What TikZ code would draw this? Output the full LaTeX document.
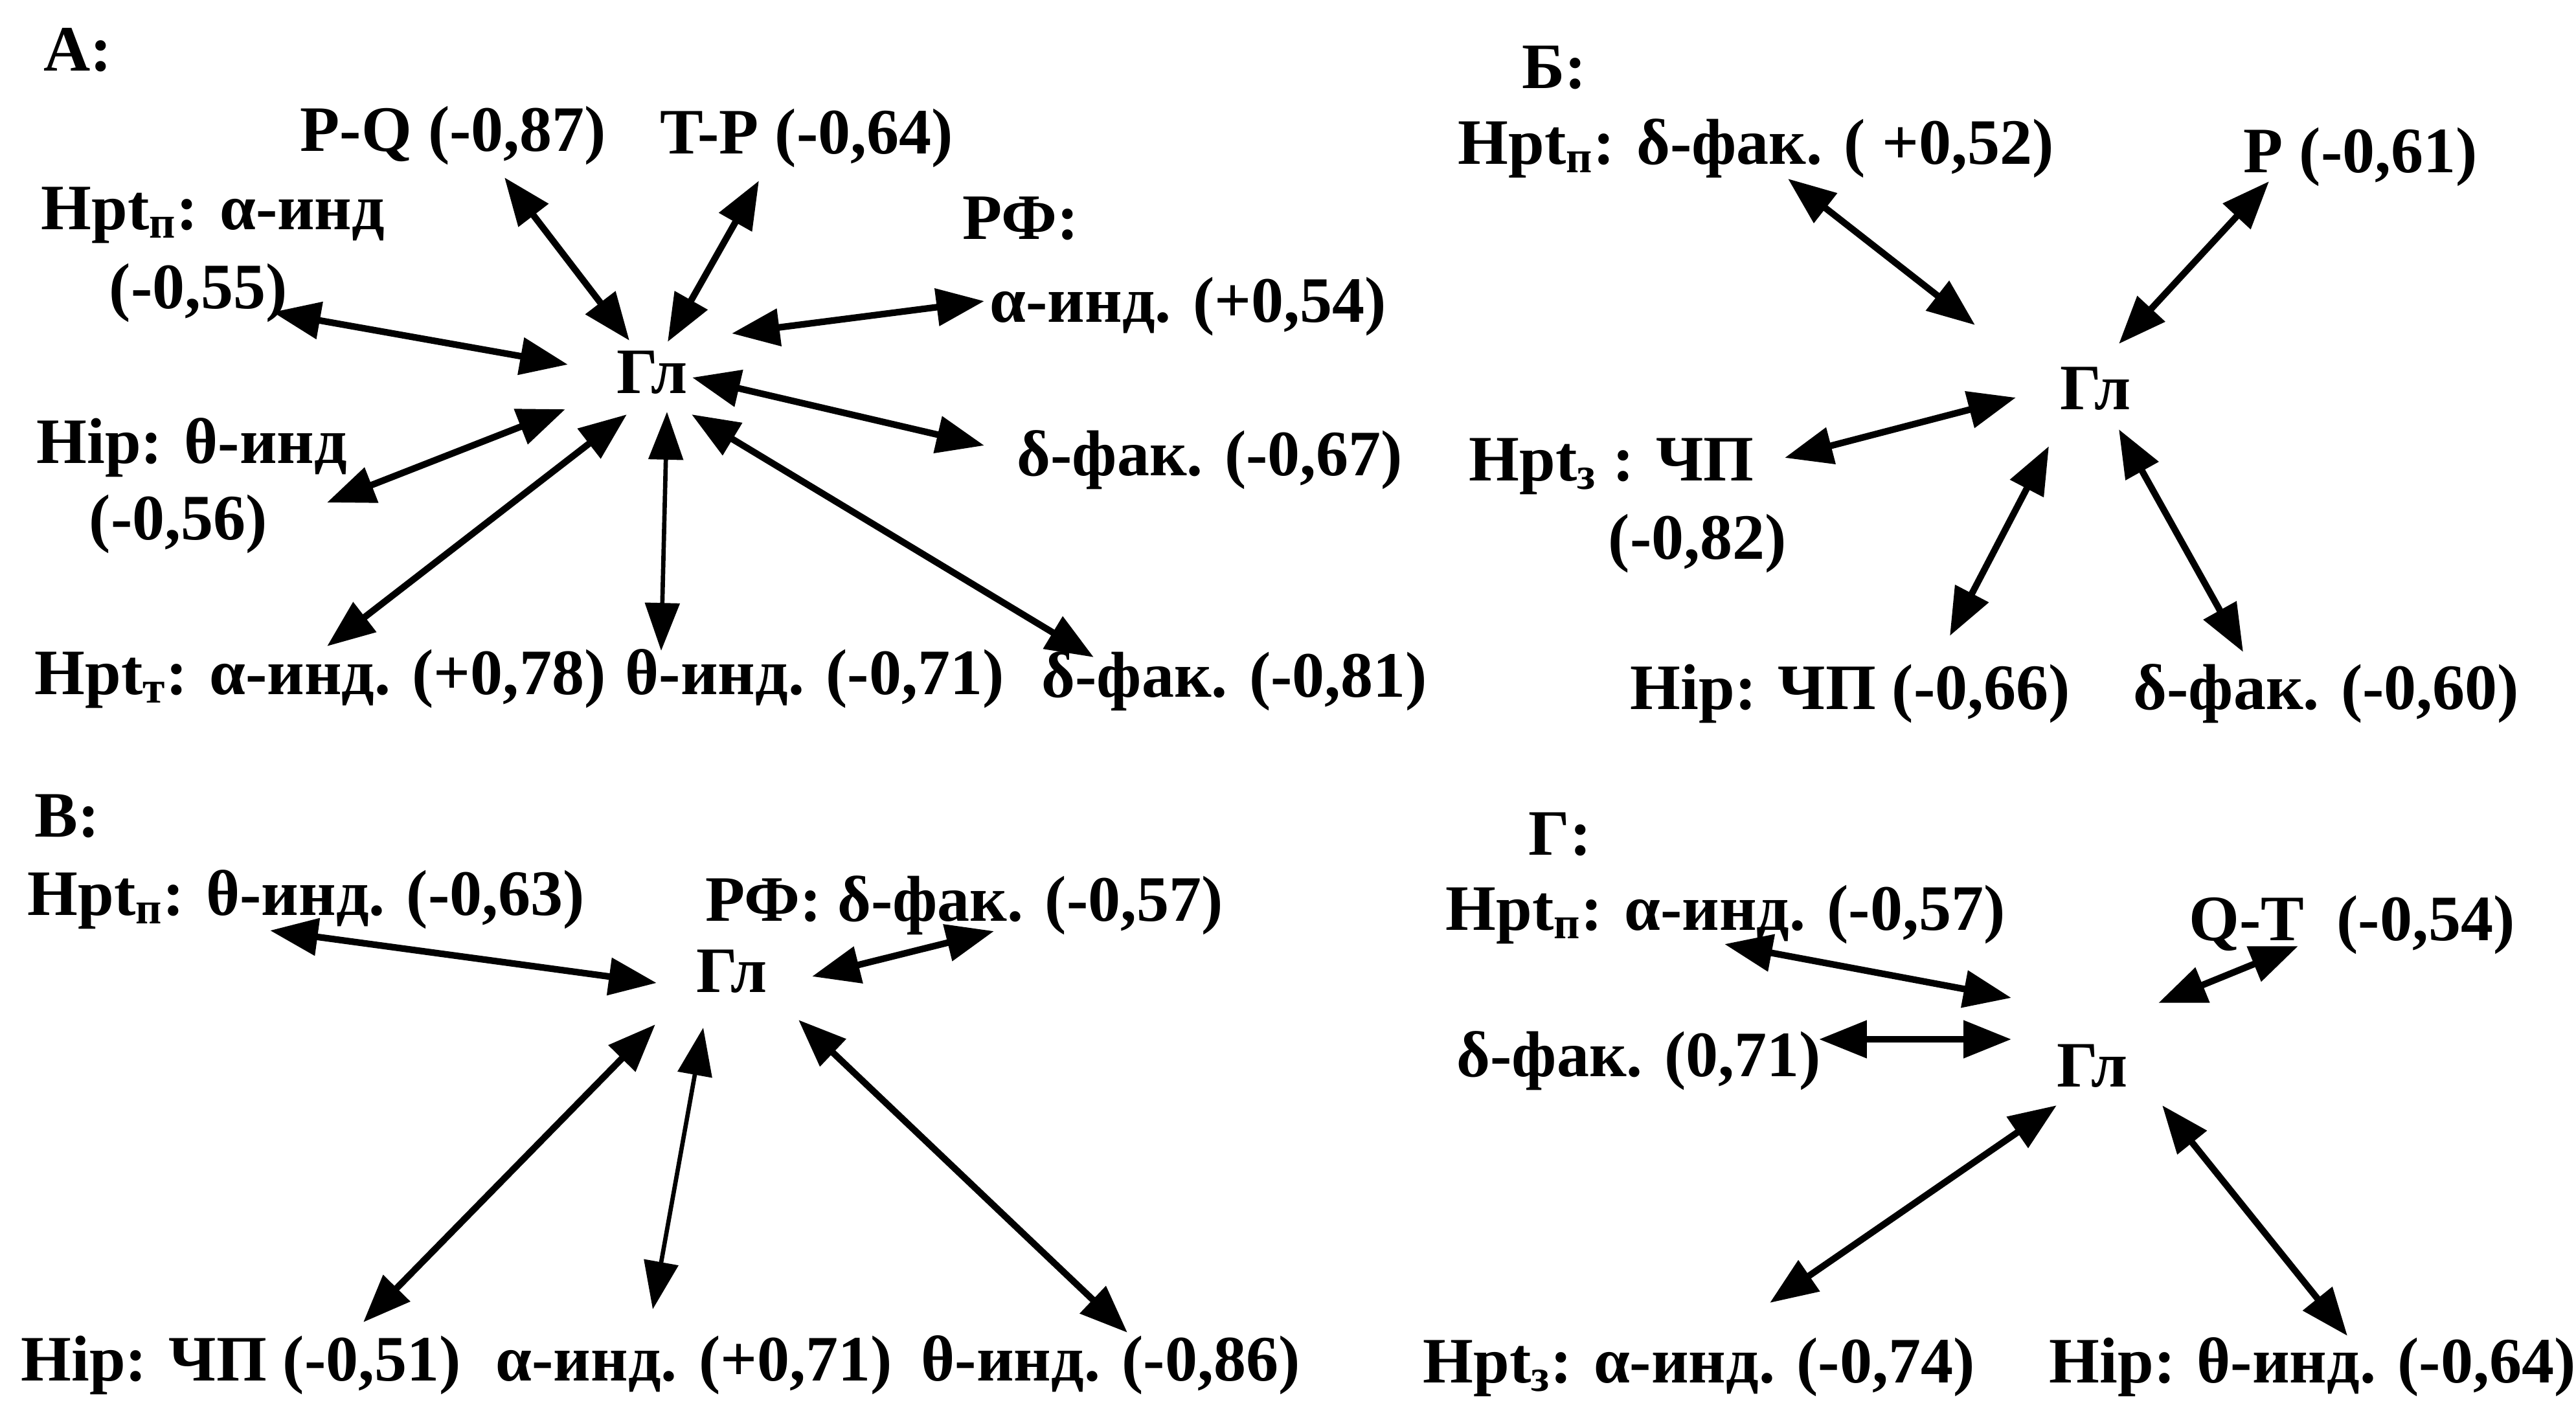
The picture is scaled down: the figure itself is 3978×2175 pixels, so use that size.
\documentclass[tikz,border=0pt]{standalone}
\usepackage{fontspec}
\setmainfont{Liberation Serif}
\usetikzlibrary{arrows.meta}
\tikzset{
  lbl/.style={inner sep=0pt, anchor=base west, font=\bfseries\fontsize{28.45}{34}\selectfont},
  arr/.style={line width=2.9pt, {Triangle[length=21pt,width=16pt]}-{Triangle[length=21pt,width=16pt]}},
  arrthin/.style={line width=1.9pt, {Triangle[length=21pt,width=15pt]}-{Triangle[length=21pt,width=15pt]}}
}
\begin{document}
\begin{tikzpicture}[x=0.01cm,y=-0.01cm]
\useasboundingbox (0,0) rectangle (3978,2175);
% ---------------- Panel A ----------------
\node[lbl] (tA) at (67,109) {А:};
\node[lbl] (aPQ) at (463,233) {P-Q (-0,87)};
\node[lbl] (aTP) at (1019,237) {T-P (-0,64)};
\node[lbl] (aHn) at (63,354) {Hpt\textsubscript{п}: α-инд};
\node[lbl] (aHnv) at (168,476) {(-0,55)};
\node[lbl] (aRF) at (1486,369) {РФ:};
\node[lbl] (aRFv) at (1528,497) {α-инд. (+0,54)};
\node[lbl] (aGl) at (952,607) {Гл};
\node[lbl] (aHip) at (56,715) {Hip: θ-инд};
\node[lbl] (aHipv) at (137,833) {(-0,56)};
\node[lbl] (aD67) at (1570,734) {δ-фак. (-0,67)};
\node[lbl] (aHt) at (53,1072) {Hpt\textsubscript{т}: α-инд. (+0,78)};
\node[lbl] (aTh) at (965,1072) {θ-инд. (-0,71)};
\node[lbl] (aD81) at (1608,1076) {δ-фак. (-0,81)};
\coordinate (pq1) at (779,274);  \coordinate (pq2) at (972,526);
\coordinate (tp1) at (1172,279); \coordinate (tp2) at (1031,528);
\coordinate (hn1) at (421,482);  \coordinate (hn2) at (877,563);
\coordinate (rf1) at (1520,465); \coordinate (rf2) at (1130,515);
\coordinate (hp1) at (505,776);  \coordinate (hp2) at (873,632);
\coordinate (ht1) at (505,998);  \coordinate (ht2) at (968,640);
\coordinate (th1) at (1021,1005); \coordinate (th2) at (1030,636);
\coordinate (d81a) at (1068,640); \coordinate (d81b) at (1689,1015);
\coordinate (d67a) at (1069,583); \coordinate (d67b) at (1520,688);
\draw[arr] (pq1) -- (pq2);
\draw[arr] (tp1) -- (tp2);
\draw[arr] (hn1) -- (hn2);
\draw[arr] (rf1) -- (rf2);
\draw[arr] (hp1) -- (hp2);
\draw[arr] (ht1) -- (ht2);
\draw[arrthin] (th1) -- (th2);
\draw[arr] (d81a) -- (d81b);
\draw[arr] (d67a) -- (d67b);
% ---------------- Panel B ----------------
\node[lbl] (tB) at (2350,136) {Б:};
\node[lbl] (bHn) at (2251,253) {Hpt\textsubscript{п}: δ-фак. ( +0,52)};
\node[lbl] (bP) at (3464,266) {P (-0,61)};
\node[lbl] (bGl) at (3181,632) {Гл};
\node[lbl] (bHz) at (2268,742) {Hpt\textsubscript{з} : ЧП};
\node[lbl] (bHzv) at (2483,863) {(-0,82)};
\node[lbl] (bHip) at (2517,1095) {Hip: ЧП (-0,66)};
\node[lbl] (bD) at (3294,1095) {δ-фак. (-0,60)};
\coordinate (b1a) at (2761,276); \coordinate (b1b) at (3050,502);
\coordinate (b2a) at (3504,280); \coordinate (b2b) at (3272,531);
\coordinate (b3a) at (2756,707); \coordinate (b3b) at (3113,614);
\coordinate (b4a) at (3164,689); \coordinate (b4b) at (3011,982);
\coordinate (b5a) at (3272,663); \coordinate (b5b) at (3464,1007);
\draw[arr] (b1a) -- (b1b);
\draw[arr] (b2a) -- (b2b);
\draw[arr] (b3a) -- (b3b);
\draw[arr] (b4a) -- (b4b);
\draw[arr] (b5a) -- (b5b);
% ---------------- Panel V ----------------
\node[lbl] (tV) at (53,1292) {В:};
\node[lbl] (vHn) at (42,1413) {Hpt\textsubscript{п}: θ-инд. (-0,63)};
\node[lbl] (vRF) at (1089,1422) {РФ: δ-фак. (-0,57)};
\node[lbl] (vGl) at (1075,1532) {Гл};
\node[lbl] (vHip) at (32,2132) {Hip: ЧП (-0,51)};
\node[lbl] (vA) at (765,2132) {α-инд. (+0,71)};
\node[lbl] (vTh) at (1422,2132) {θ-инд. (-0,86)};
\coordinate (v1a) at (417,1437);  \coordinate (v1b) at (1014,1518);
\coordinate (v2a) at (1254,1508); \coordinate (v2b) at (1535,1438);
\coordinate (v3a) at (1012,1582); \coordinate (v3b) at (561,2042);
\coordinate (v4a) at (1086,1587); \coordinate (v4b) at (1008,2022);
\coordinate (v5a) at (1233,1575); \coordinate (v5b) at (1741,2058);
\draw[arr] (v1a) -- (v1b);
\draw[arr] (v2a) -- (v2b);
\draw[arr] (v3a) -- (v3b);
\draw[arrthin] (v4a) -- (v4b);
\draw[arr] (v5a) -- (v5b);
% ---------------- Panel G ----------------
\node[lbl] (tG) at (2360,1320) {Г:};
\node[lbl] (gHn) at (2232,1436) {Hpt\textsubscript{п}: α-инд. (-0,57)};
\node[lbl] (gQT) at (3380,1452) {Q-T\enspace(-0,54)};
\node[lbl] (gD) at (2249,1662) {δ-фак. (0,71)};
\node[lbl] (gGl) at (3176,1678) {Гл};
\node[lbl] (gHz) at (2197,2135) {Hpt\textsubscript{з}: α-инд. (-0,74)};
\node[lbl] (gHip) at (3164,2135) {Hip: θ-инд. (-0,64)};
\coordinate (g1a) at (2663,1458); \coordinate (g1b) at (3106,1541);
\coordinate (g2a) at (3549,1461); \coordinate (g2b) at (3333,1549);
\coordinate (g3a) at (2809,1605); \coordinate (g3b) at (3106,1605);
\coordinate (g4a) at (3176,1707); \coordinate (g4b) at (2733,2012);
\coordinate (g5a) at (3339,1707); \coordinate (g5b) at (3625,2063);
\draw[arr] (g1a) -- (g1b);
\draw[arr] (g2a) -- (g2b);
\draw[arr] (g3a) -- (g3b);
\draw[arr] (g4a) -- (g4b);
\draw[arr] (g5a) -- (g5b);
\end{tikzpicture}
\end{document}
